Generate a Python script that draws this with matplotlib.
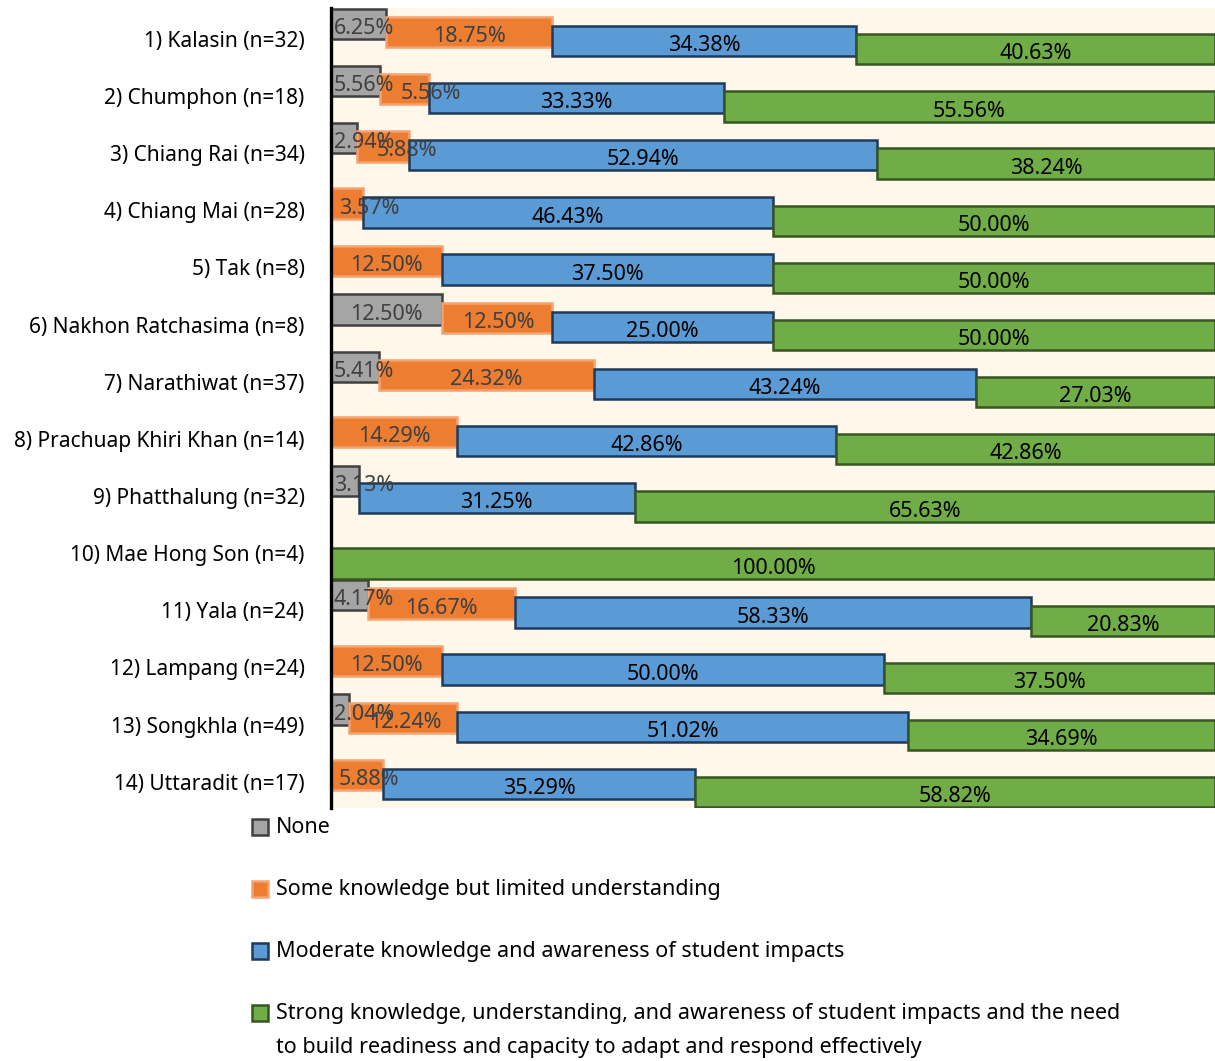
import numpy as np
import matplotlib.pyplot as plt
from matplotlib.patches import Rectangle

plt.rcParams['font.family'] = ['Noto Sans', 'DejaVu Sans']

# provinces and shares (%) per knowledge level
provinces = ['1) Kalasin (n=32)', '2) Chumphon (n=18)', '3) Chiang Rai (n=34)',
             '4) Chiang Mai (n=28)', '5) Tak (n=8)', '6) Nakhon Ratchasima (n=8)',
             '7) Narathiwat (n=37)', '8) Prachuap Khiri Khan (n=14)',
             '9) Phatthalung (n=32)', '10) Mae Hong Son (n=4)', '11) Yala (n=24)',
             '12) Lampang (n=24)', '13) Songkhla (n=49)', '14) Uttaradit (n=17)']
none_pct = [6.25, 5.56, 2.94, 0, 0, 12.50, 5.41, 0, 3.13, 0, 4.17, 0, 2.04, 0]
some_pct = [18.75, 5.56, 5.88, 3.57, 12.50, 12.50, 24.32, 14.29, 0, 0, 16.67, 12.50, 12.24, 5.88]
moderate_pct = [34.38, 33.33, 52.94, 46.43, 37.50, 25.00, 43.24, 42.86, 31.25, 0, 58.33, 50.00, 51.02, 35.29]
strong_pct = [40.63, 55.56, 38.24, 50.00, 50.00, 50.00, 27.03, 42.86, 65.63, 100.00, 20.83, 37.50, 34.69, 58.82]

series_names = ['None',
                'Some knowledge but limited understanding',
                'Moderate knowledge and awareness of student impacts',
                'Strong knowledge, understanding, and awareness of student impacts and the need\n'
                'to build readiness and capacity to adapt and respond effectively']
series = [none_pct, some_pct, moderate_pct, strong_pct]
fills = ['#A5A5A5', '#ED7D31', '#5B9BD5', '#70AD47']
edges = ['#404040', '#F4A270', '#1F3A5A', '#375623']
txt_cols = ['#404040', '#404040', 'black', 'black']
offsets = [-0.223, -0.078, 0.078, 0.223]

fig = plt.figure(figsize=(12.15, 10.61), dpi=100)
ax = fig.add_axes([331/1215, 1-808/1061, 1-331/1215, 800/1061])
ax.set_facecolor('#FEF7EA')

y = np.arange(len(provinces))
left = np.zeros(len(provinces))
for k, vals in enumerate(series):
    vals = np.array(vals, dtype=float)
    for i in range(len(provinces)):
        if vals[i] <= 0:
            continue
        ax.barh(y[i] + offsets[k], vals[i], left=left[i], height=0.53,
                color=fills[k], edgecolor=edges[k], linewidth=1.8)
        txt = f'{vals[i]:.2f}%'
        mid = left[i] + vals[i] / 2
        hw = len(txt) * 0.68
        # small segments: push the label right so it stays readable
        if k == 0:
            xc = max(mid, hw + 0.3)
        elif k == 1:
            pad = 2.3 if none_pct[i] > 0 else 0.9
            xc = max(mid, left[i] + hw + pad)
        else:
            xc = mid
        ax.text(xc, y[i] + offsets[k] + 0.08, txt, ha='center', va='center',
                fontsize=15.5, color=txt_cols[k])
    left += vals

ax.set_xlim(0, 100)
ax.set_ylim(13.5, -0.5)
ax.set_yticks(y + 0.04)
ax.set_yticklabels(provinces, fontsize=15)
ax.tick_params(axis='y', length=0, pad=19)
ax.set_xticks([])
for s in ['top', 'right', 'bottom']:
    ax.spines[s].set_visible(False)
ax.spines['left'].set_linewidth(2.4)
ax.spines['left'].set_color('black')

# legend below the chart
leg_y = [827, 889, 951, 1013]
for k, name in enumerate(series_names):
    yy = 1 - leg_y[k] / 1061
    fig.patches.append(Rectangle((252/1215, yy - 8/1061), 16/1215, 16/1061,
                                 transform=fig.transFigure, facecolor=fills[k],
                                 edgecolor=edges[k], linewidth=1.8))
    fig.text(276/1215, yy + 10/1061, name, ha='left', va='top', fontsize=15.5,
             linespacing=1.8)

fig.savefig('out.png', dpi=100)
